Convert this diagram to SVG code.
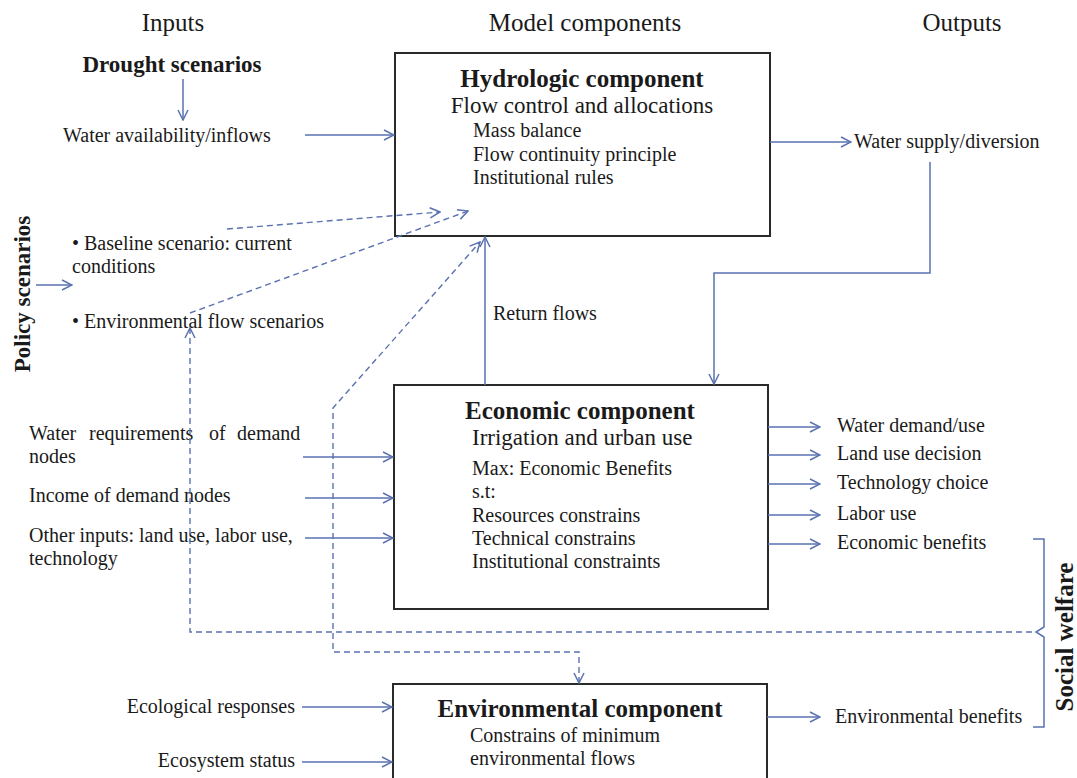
<svg xmlns="http://www.w3.org/2000/svg" width="1077" height="778" viewBox="0 0 1077 778">
<style>
text{font-family:"Liberation Serif","Times New Roman",serif;fill:#1a1a1a;font-size:20px}
.h{font-size:25px}
.t{font-size:25px;font-weight:bold}
.s{font-size:23px}
.b{font-size:23px;font-weight:bold}
.box{fill:#fff;stroke:#2a2a2a;stroke-width:2}
.c{stroke:#5a72b0;stroke-width:1.5;fill:none}
.d{stroke:#5a72b0;stroke-width:1.4;fill:none;stroke-dasharray:6 4}
</style>
<defs>
<marker id="ah" viewBox="0 0 12 12" refX="11" refY="6" markerWidth="12" markerHeight="12" markerUnits="userSpaceOnUse" orient="auto">
<path d="M1,1 L11,6 L1,11" fill="none" stroke="#5a72b0" stroke-width="1.5" stroke-dasharray="none"/>
</marker>
<marker id="as" viewBox="0 0 12 12" refX="11" refY="6" markerWidth="12" markerHeight="12" markerUnits="userSpaceOnUse" orient="auto-start-reverse">
<path d="M1,1 L11,6 L1,11" fill="none" stroke="#5a72b0" stroke-width="1.5" stroke-dasharray="none"/>
</marker>
</defs>
<rect width="1077" height="778" fill="#fff"/>

<g id="headings">
<text class="h" x="173" y="31" text-anchor="middle">Inputs</text>
<text class="h" x="585" y="31" text-anchor="middle">Model components</text>
<text class="h" x="962" y="31" text-anchor="middle">Outputs</text>
</g>

<g id="hydrologic">
<rect class="box" x="395" y="53" width="375" height="183"/>
<text class="t" x="582" y="87" text-anchor="middle">Hydrologic component</text>
<text class="s" x="582" y="113" text-anchor="middle">Flow control and allocations</text>
<text x="473" y="137">Mass balance</text>
<text x="473" y="161">Flow continuity principle</text>
<text x="473" y="184">Institutional rules</text>
</g>

<g id="economic">
<rect class="box" x="394" y="385" width="374" height="224"/>
<text class="t" x="580" y="419" text-anchor="middle">Economic component</text>
<text class="s" x="472" y="445">Irrigation and urban use</text>
<text x="472" y="475">Max: Economic Benefits</text>
<text x="472" y="498">s.t:</text>
<text x="472" y="522">Resources constrains</text>
<text x="472" y="545">Technical constrains</text>
<text x="472" y="568">Institutional constraints</text>
</g>

<g id="environmental">
<rect class="box" x="393" y="684" width="374" height="110"/>
<text class="t" x="580" y="717" text-anchor="middle">Environmental component</text>
<text x="470" y="742">Constrains of minimum</text>
<text x="470" y="765">environmental flows</text>
</g>

<g id="drought">
<text class="b" x="172" y="72" text-anchor="middle">Drought scenarios</text>
<text x="63" y="142">Water availability/inflows</text>
</g>

<g id="policy">
<text class="b" transform="translate(30,294) rotate(-90)" text-anchor="middle">Policy scenarios</text>
<text x="72" y="250">• Baseline scenario: current</text>
<text x="72" y="273">conditions</text>
<text x="72" y="328">• Environmental flow scenarios</text>
</g>

<g id="economic-inputs">
<text y="440"><tspan x="29">Water</tspan><tspan x="89">requirements</tspan><tspan x="209">of</tspan><tspan x="237">demand</tspan></text>
<text x="29" y="463">nodes</text>
<text x="29" y="502">Income of demand nodes</text>
<text x="29" y="542">Other inputs: land use, labor use,</text>
<text x="29" y="565">technology</text>
</g>

<g id="env-inputs">
<text x="295" y="713" text-anchor="end">Ecological responses</text>
<text x="295" y="767" text-anchor="end">Ecosystem status</text>
</g>

<g id="outputs">
<text x="854" y="148">Water supply/diversion</text>
<text x="837" y="432">Water demand/use</text>
<text x="837" y="460">Land use decision</text>
<text x="837" y="489">Technology choice</text>
<text x="837" y="520">Labor use</text>
<text x="837" y="549">Economic benefits</text>
<text x="835" y="723">Environmental benefits</text>
</g>

<g id="social-welfare">
<path class="c" d="M1033,539 H1044 V627 L1036,632 L1044,637 V727 H1033"/>
<text class="t" transform="translate(1073,637) rotate(-90)" text-anchor="middle">Social welfare</text>
</g>

<g id="connectors">
<line class="c" x1="183" y1="79" x2="183" y2="120" marker-end="url(#ah)"/>
<line class="c" x1="305" y1="135" x2="394" y2="135" marker-end="url(#ah)"/>
<line class="c" x1="36" y1="285" x2="72" y2="285" marker-end="url(#ah)"/>
<line class="c" x1="770" y1="142" x2="851" y2="142" marker-end="url(#ah)"/>
<path class="c" d="M930,162 V273 H714 V384" marker-end="url(#ah)"/>
<line class="c" x1="485" y1="385" x2="485" y2="237" marker-end="url(#ah)"/>
<text x="493" y="320">Return flows</text>
<line class="c" x1="303" y1="457" x2="393" y2="457" marker-end="url(#ah)"/>
<line class="c" x1="305" y1="498" x2="393" y2="498" marker-end="url(#ah)"/>
<line class="c" x1="305" y1="538" x2="393" y2="538" marker-end="url(#ah)"/>
<line class="c" x1="768" y1="427" x2="820" y2="427" marker-end="url(#ah)"/>
<line class="c" x1="768" y1="455" x2="820" y2="455" marker-end="url(#ah)"/>
<line class="c" x1="768" y1="484" x2="820" y2="484" marker-end="url(#ah)"/>
<line class="c" x1="768" y1="515" x2="820" y2="515" marker-end="url(#ah)"/>
<line class="c" x1="768" y1="544" x2="820" y2="544" marker-end="url(#ah)"/>
<line class="c" x1="767" y1="717" x2="820" y2="717" marker-end="url(#ah)"/>
<line class="c" x1="302" y1="707" x2="392" y2="707" marker-end="url(#ah)"/>
<line class="c" x1="302" y1="762" x2="392" y2="762" marker-end="url(#ah)"/>
<line class="d" x1="227" y1="229" x2="440" y2="212" marker-end="url(#ah)"/>
<line class="d" x1="190" y1="313" x2="468" y2="211" marker-end="url(#ah)"/>
<path class="d" d="M579,683 V652 H333 V408 L480,242" marker-start="url(#as)" marker-end="url(#ah)"/>
<path class="d" d="M1032,632 H190 V328" marker-end="url(#ah)"/>
</g>
</svg>
